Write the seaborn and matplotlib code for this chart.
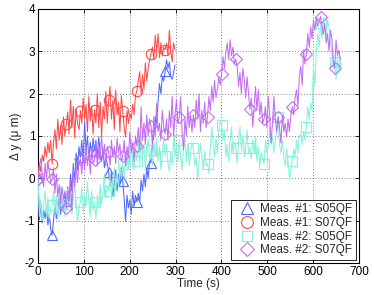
import numpy as np
import pandas as pd
import matplotlib
matplotlib.use("Agg")
import matplotlib.pyplot as plt
from matplotlib.lines import Line2D
import seaborn as sns

# ---------------- data ----------------
dt = 3.08  # sampling interval (s)

red_m1_s07 = [0.0,
              0.35, 0.15, 0.55, 0.4, 0.75, 0.5, 0.85, 0.6, 0.9, 0.33,
              0.85, 1.15, 0.7, 1.4, 0.9, 1.25, 0.8, 1.45, 1.0, 1.28,
              1.57, 1.05, 1.85, 1.2, 1.7, 0.95, 1.65, 1.3, 1.15, 1.6,
              1.3, 1.9, 1.4, 1.75, 1.1, 1.93, 1.35, 1.7, 1.05, 1.62,
              1.3, 2.0, 1.2, 1.8, 1.0, 1.7, 1.4, 2.05, 1.3, 1.85,
              2.17, 1.4, 1.85, 1.15, 2.09, 1.5, 1.8, 1.1, 1.95, 1.6,
              1.2, 0.98, 1.6, 1.3, 1.53, 1.4, 1.75, 1.5, 1.95, 2.07,
              2.3, 2.52, 2.0, 2.45, 2.1, 2.72, 2.3, 2.6, 2.8, 2.94,
              3.1, 2.8, 3.38, 3.0, 3.42, 2.85, 3.2, 2.9, 3.1, 3.03,
              3.19, 2.9, 3.5, 3.0, 2.75, 3.2, 3.03]

blue_m1_s05 = [0.0,
               -0.98, -0.6, -1.05, -0.75, -0.95, -0.7, -1.1, -0.85, -1.2, -1.34,
               -1.0, -0.6, -0.95, -0.79, -0.45, -0.85, -0.5, -0.75, -0.35, -0.54,
               -0.2, -0.6, 0.1, -0.3, 0.35, -0.1, 0.6, 0.2, 0.75, 0.5,
               0.9, 0.4, 1.34, 0.6, 1.0, 0.45, 0.85, 0.55, 0.95, 0.65,
               0.9, 0.5, 0.98, 0.6, 0.4, 0.7, 0.25, 0.5, 0.35, 0.16,
               -0.2, 0.15, -0.43, -0.1, 0.2, -0.3, 0.1, -0.15, 0.25, -0.06,
               -0.5, -1.02, -0.4, -0.7, -0.51, -0.85, -0.3, -0.65, -0.4, -0.55,
               -0.35, -0.55, -0.04, -0.3, 0.1, -0.2, 0.25, 0.0, 0.4, 0.37,
               0.83, 1.0, 1.46, 1.3, 1.8, 2.24, 2.0, 2.4, 2.3, 2.53,
               2.8, 2.6, 2.75, 2.4, 2.34, 2.5, 2.68]

cyan_m2_s05 = [0.0, -0.9, -0.5, -1.0, -0.6, -0.3, -0.85, -0.45, -0.95, -0.7,
               -0.63, -0.3, -0.8, -0.4, -1.0, -0.55, -0.2, -0.75, -0.45, -0.9,
               -0.6, -0.25, -0.7, -0.35, -0.85, -0.5, -0.15, -0.6, -1.02, -0.7,
               -0.56, -0.2, -0.8, -0.4, -0.65, -0.1, -0.55, -0.9, -0.3, -0.75,
               -0.57, -0.95, -0.4, -0.7, -0.15, -0.6, -0.3, 0.1, -0.45, -0.2,
               -0.29, 0.05, -0.5, -0.1, 0.25, -0.3, 0.1, -0.2, 0.3, 0.0,
               0.35, 0.0, 0.6, 0.2, 0.75, 0.3, 0.9, 0.45, 0.2, 0.7,
               0.4, 0.85, 0.3, 1.0, 0.5, 0.8, 0.2, 0.65, 0.95, 0.45,
               0.67, 0.3, 0.85, 0.5, 0.95, 0.4, 0.75, 0.2, 0.6, 0.9,
               0.53, 0.8, 0.35, 0.16, 0.6, 0.3, 0.95, 0.5, 0.8, 0.4,
               0.9, 0.5, 0.2, 0.7, 0.95, 0.4, 0.8, 0.3, 0.6, 0.85,
               0.71, 0.3, 0.5, -0.04, 0.4, 0.83, 0.5, 0.2, 0.65, 0.3,
               0.35, 0.12, 0.7, 1.22, 0.8, 0.5, 0.95, 0.6, 1.1, 1.38,
               1.27, 0.9, 1.1, 0.51, 0.8, 0.4, 0.9, 1.22, 0.6, 0.85,
               0.72, 0.35, 0.9, 1.22, 0.7, 1.0, 0.5, 0.8, 1.14, 0.6,
               0.72, 0.47, 0.9, 0.6, 1.0, 0.4, 0.75, 0.3, 0.6, 0.5,
               0.35, 0.9, 0.6, 0.75, 1.22, 0.8, 1.0, 0.6, 0.9, 1.1,
               1.46, 0.8, 0.6, 0.9, 0.5, 0.3, 0.7, 0.4, -0.04, 0.2,
               0.42, 0.7, 0.5, 0.9, 0.6, 0.98, 1.06, 0.8, 1.1, 0.9,
               1.22, 1.69, 1.4, 1.77, 1.6, 2.64, 2.2, 3.0, 3.42, 3.1,
               3.66, 3.3, 3.75, 3.5, 3.35, 3.74, 3.58, 3.2, 3.0, 2.6,
               2.75, 2.34, 2.9, 2.5, 2.88]

purple_m2_s07 = [-0.02, 0.3, 0.47, 0.1, -0.2, 0.35, 0.0, 0.4, 0.15, -0.1,
                 -0.02, 0.25, -0.35, 0.1, -0.43, -0.15, -0.6, -0.2, -0.5, -0.3,
                 -0.71, -0.3, -0.55, -0.1, -0.75, 0.2, -0.2, 0.3, -0.1, 0.35,
                 0.46, 0.1, 0.59, 0.2, 0.8, 0.3, 0.65, 0.1, 0.75, 0.35,
                 0.43, 0.85, 0.3, 0.7, 0.45, 1.0, 0.5, 0.8, 0.3, 0.75,
                 0.63, 0.3, 0.9, 0.5, 0.75, 0.35, 0.95, 0.6, 0.8, 0.4,
                 0.53, 0.9, 0.3, 0.75, 0.5, 1.1, 0.6, 0.85, 0.4, 1.0,
                 0.76, 1.2, 0.7, 1.69, 0.9, 1.3, 0.8, 1.5, 1.0, 1.4,
                 1.23, 0.8, 1.45, 1.0, 1.77, 1.1, 1.3, 0.9, 1.6, 1.2,
                 1.05, 1.4, 0.9, 1.6, 1.2, 1.93, 1.0, 1.5, 1.85, 1.3,
                 1.44, 1.93, 1.1, 0.67, 1.4, 1.0, 1.7, 1.2, 1.5, 1.1,
                 1.5, 1.2, 1.85, 1.4, 2.0, 1.1, 1.6, 1.3, 1.8, 1.2,
                 1.46, 1.93, 1.6, 2.17, 1.8, 2.31, 1.9, 2.1, 2.4, 2.2,
                 2.46, 2.87, 2.6, 3.0, 3.19, 2.8, 3.27, 2.9, 3.1, 2.7,
                 2.81, 2.64, 2.17, 2.5, 2.0, 2.6, 2.34, 1.9, 2.4, 2.0,
                 1.63, 1.9, 1.22, 1.7, 2.17, 1.6, 2.09, 1.5, 1.8, 1.3,
                 1.4, 1.7, 1.2, 1.93, 1.5, 0.83, 1.3, 1.93, 1.4, 1.1,
                 1.46, 1.2, 0.83, 1.5, 1.1, 1.3, 0.98, 1.4, 1.1, 1.5,
                 1.69, 1.5, 1.9, 2.09, 1.7, 2.4, 2.64, 2.2, 3.03, 2.7,
                 2.94, 3.42, 3.1, 3.58, 3.3, 3.74, 3.5, 3.8, 3.6, 3.7,
                 3.82, 3.6, 3.4, 3.66, 3.2, 3.42, 3.0, 3.5, 3.3, 2.8,
                 2.6, 3.27, 2.9, 3.03, 2.8]

labels = ["Meas. #1: S05QF", "Meas. #1: S07QF", "Meas. #2: S05QF", "Meas. #2: S07QF"]
series = [blue_m1_s05, red_m1_s07, cyan_m2_s05, purple_m2_s07]
colors = ["#5068ff", "#ff4a4a", "#86f2dc", "#c46cf2"]
markers = ["^", "o", "s", "D"]
msizes = [7.5, 7.5, 6.5, 6.0]

xticks = [0, 100, 200, 300, 400, 500, 600, 700]
yticks = [-2, -1, 0, 1, 2, 3, 4]

# ---------------- plot ----------------
sns.set_theme(style="white")
plt.rcParams["font.family"] = ["Liberation Sans", "DejaVu Sans"]
plt.rcParams["mathtext.fontset"] = "dejavusans"

fig = plt.figure(figsize=(3.74, 2.95), dpi=100)
ax = fig.add_axes([0.1016, 0.1085, 0.8584, 0.861])

for vals, lab, col, mk, ms in zip(series, labels, colors, markers, msizes):
    df = pd.DataFrame({"t": np.arange(len(vals)) * dt, "v": vals})
    sns.lineplot(data=df, x="t", y="v", ax=ax, color=col, lw=0.75,
                 marker=mk, markevery=10, markersize=ms,
                 markerfacecolor="none", markeredgecolor=col,
                 markeredgewidth=0.8, legend=False, zorder=3)

ax.set_xlim(0, 700)
ax.set_ylim(-2, 4)
ax.set_xticks(xticks)
ax.set_yticks(yticks)
ax.set_xticklabels([str(v) for v in xticks], fontsize=8.5)
ax.set_yticklabels([str(v) for v in yticks], fontsize=8.5)
ax.set_xlabel("Time (s)", fontsize=8.5, labelpad=0)
ax.set_ylabel("Δ y (μ m)", fontsize=8.5, labelpad=2)

ax.grid(True, linestyle=(0, (1, 2.5)), color="#555555", linewidth=0.6)
ax.tick_params(direction="in", length=3, width=0.6, top=True, right=True,
               bottom=True, left=True, pad=2, colors="black")
for sp in ax.spines.values():
    sp.set_visible(True)
    sp.set_color("black")
    sp.set_linewidth(0.8)

handles = [Line2D([], [], linestyle="none", marker=mk, markersize=ms + 1,
                  markerfacecolor="none", markeredgecolor=col, markeredgewidth=0.8)
           for col, mk, ms in zip(colors, markers, msizes)]
leg = ax.legend(handles, labels, loc="lower right", fontsize=8.5, frameon=True,
                fancybox=False, edgecolor="black", framealpha=1,
                borderpad=0.3, labelspacing=0.15, handlelength=2.0,
                handletextpad=0.15, borderaxespad=0.25)
leg.get_frame().set_linewidth(0.6)

fig.savefig("out.png", dpi=100)
